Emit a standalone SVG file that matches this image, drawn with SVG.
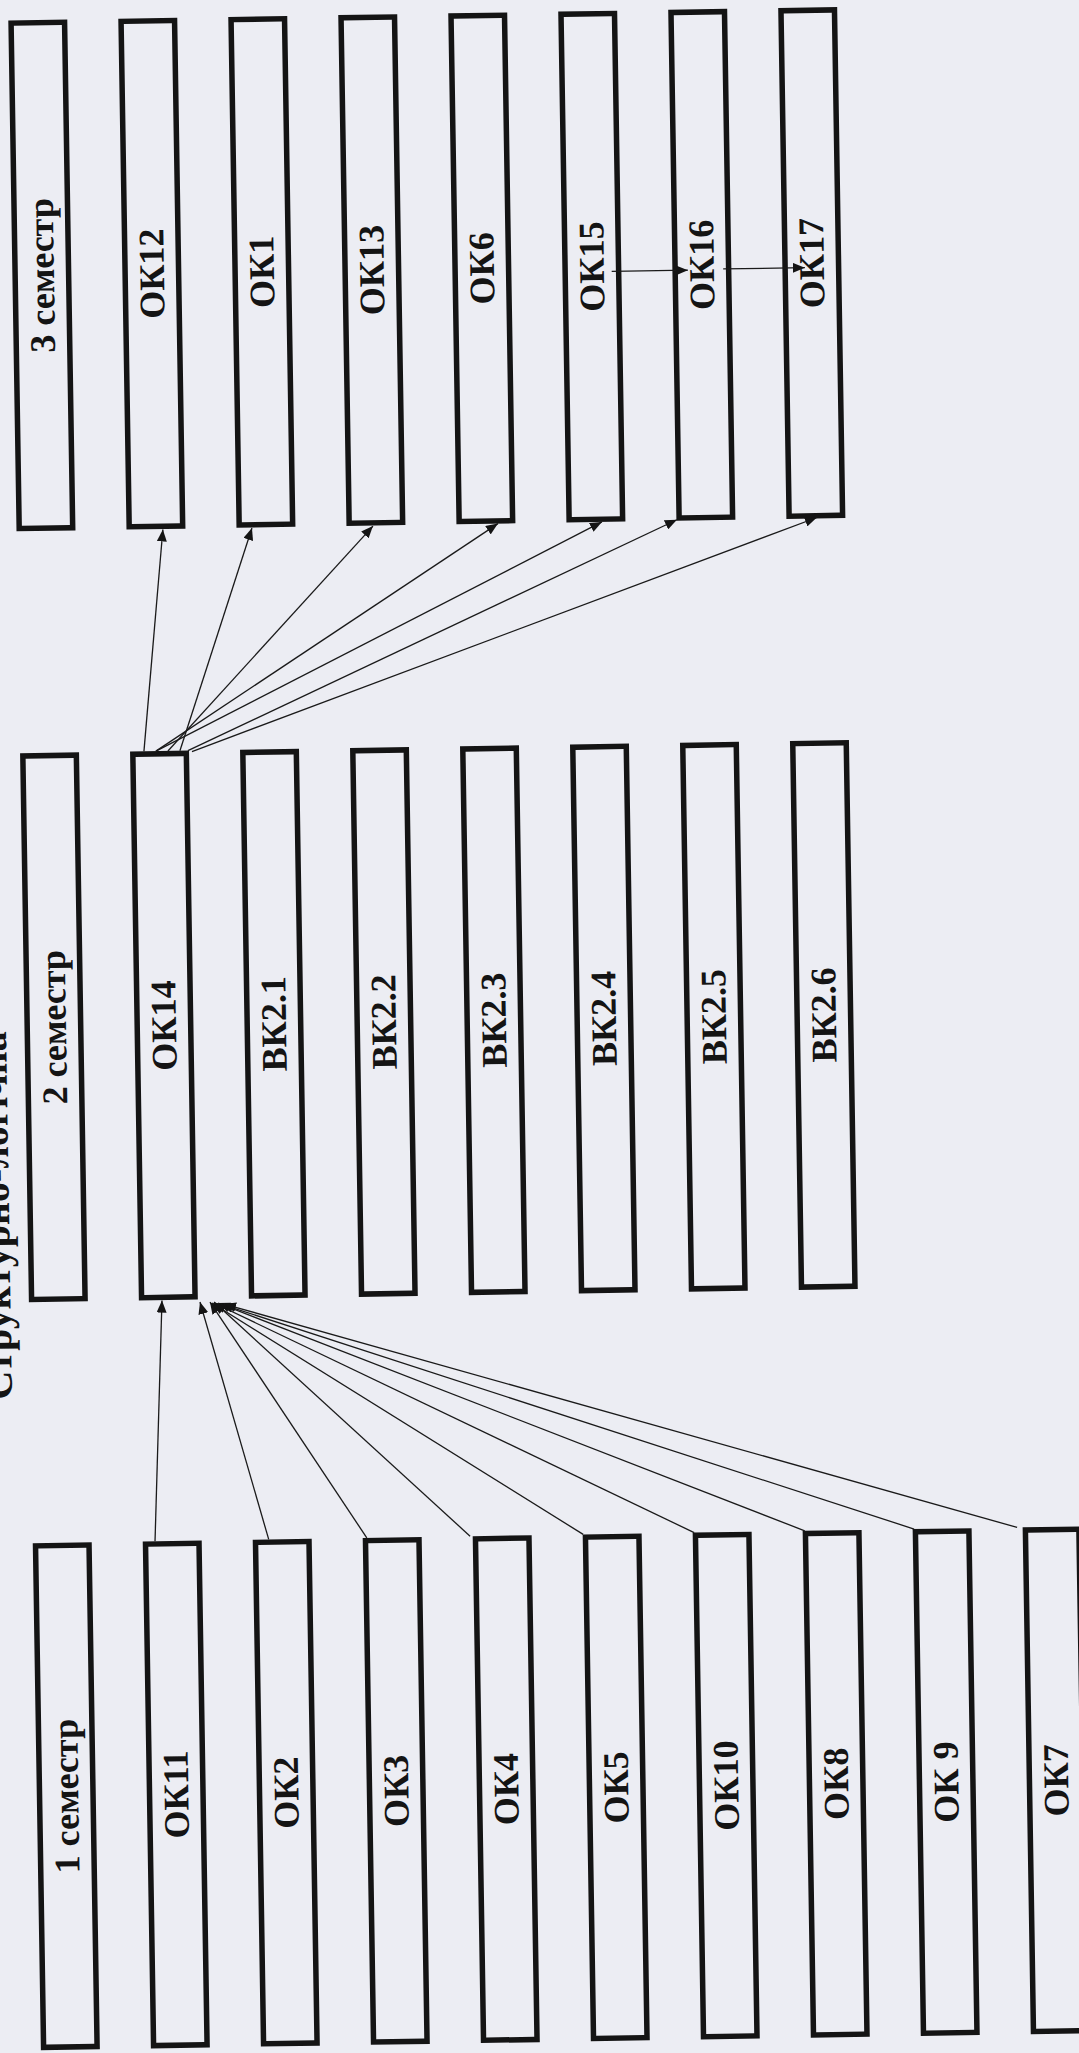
<svg xmlns="http://www.w3.org/2000/svg" width="1079" height="2053" viewBox="0 0 1079 2053">
<style>
.box{fill:none;stroke:#141414;stroke-width:5.5}
.lbl{font-family:"Liberation Serif","Times New Roman",serif;font-weight:bold;font-size:36px;fill:#141414;text-anchor:middle}
.title{font-family:"Liberation Serif","Times New Roman",serif;font-weight:bold;font-size:40px;fill:#141414;text-anchor:start}
.edge{stroke:#1a1a1a;stroke-width:1.3;fill:none;marker-end:url(#ah)}
</style>
<defs>
<marker id="ah" markerUnits="userSpaceOnUse" markerWidth="12" markerHeight="10" refX="12" refY="5" orient="auto"><path d="M0,0 L12,5 L0,10 Z" fill="#141414"/></marker>
</defs>
<rect width="1079" height="2053" fill="#ecedf3"/>
<g transform="rotate(-0.92 540 1026)">
<g id="title"><text class="title" transform="translate(6,1391) rotate(-90)">Структурно-логічна</text></g>
<!-- top row: 3rd semester -->
<g id="sem3"><rect class="box" x="27.25" y="14.75" width="53.5" height="505.5"/><text class="lbl" transform="translate(66,267.5) rotate(-90)">3 семестр</text></g>
<g id="ok12"><rect class="box" x="137.25" y="14.75" width="53.5" height="505.5"/><text class="lbl" transform="translate(176,267.5) rotate(-90)">ОК12</text></g>
<g id="ok1"><rect class="box" x="247.25" y="14.75" width="53.5" height="505.5"/><text class="lbl" transform="translate(286,267.5) rotate(-90)">ОК1</text></g>
<g id="ok13"><rect class="box" x="357.25" y="14.75" width="53.5" height="505.5"/><text class="lbl" transform="translate(396,267.5) rotate(-90)">ОК13</text></g>
<g id="ok6"><rect class="box" x="467.25" y="14.75" width="53.5" height="505.5"/><text class="lbl" transform="translate(506,267.5) rotate(-90)">ОК6</text></g>
<g id="ok15"><rect class="box" x="577.25" y="14.75" width="53.5" height="505.5"/><text class="lbl" transform="translate(616,267.5) rotate(-90)">ОК15</text></g>
<g id="ok16"><rect class="box" x="687.25" y="14.75" width="53.5" height="505.5"/><text class="lbl" transform="translate(726,267.5) rotate(-90)">ОК16</text></g>
<g id="ok17"><rect class="box" x="797.25" y="14.75" width="53.5" height="505.5"/><text class="lbl" transform="translate(836,267.5) rotate(-90)">ОК17</text></g>
<!-- middle row: 2nd semester -->
<g id="sem2"><rect class="box" x="27.25" y="747.75" width="53.5" height="543.5"/><text class="lbl" transform="translate(66,1019.5) rotate(-90)">2 семестр</text></g>
<g id="ok14"><rect class="box" x="137.25" y="747.75" width="53.5" height="543.5"/><text class="lbl" transform="translate(176,1019.5) rotate(-90)">ОК14</text></g>
<g id="vk2_1"><rect class="box" x="247.25" y="747.75" width="53.5" height="543.5"/><text class="lbl" transform="translate(286,1019.5) rotate(-90)">ВК2.1</text></g>
<g id="vk2_2"><rect class="box" x="357.25" y="747.75" width="53.5" height="543.5"/><text class="lbl" transform="translate(396,1019.5) rotate(-90)">ВК2.2</text></g>
<g id="vk2_3"><rect class="box" x="467.25" y="747.75" width="53.5" height="543.5"/><text class="lbl" transform="translate(506,1019.5) rotate(-90)">ВК2.3</text></g>
<g id="vk2_4"><rect class="box" x="577.25" y="747.75" width="53.5" height="543.5"/><text class="lbl" transform="translate(616,1019.5) rotate(-90)">ВК2.4</text></g>
<g id="vk2_5"><rect class="box" x="687.25" y="747.75" width="53.5" height="543.5"/><text class="lbl" transform="translate(726,1019.5) rotate(-90)">ВК2.5</text></g>
<g id="vk2_6"><rect class="box" x="797.25" y="747.75" width="53.5" height="543.5"/><text class="lbl" transform="translate(836,1019.5) rotate(-90)">ВК2.6</text></g>
<!-- bottom row: 1st semester -->
<g id="sem1"><rect class="box" x="27.25" y="1537.75" width="53.5" height="501.5"/><text class="lbl" transform="translate(66,1788.5) rotate(-90)">1 семестр</text></g>
<g id="ok11"><rect class="box" x="137.25" y="1537.75" width="53.5" height="501.5"/><text class="lbl" transform="translate(176,1788.5) rotate(-90)">ОК11</text></g>
<g id="ok2"><rect class="box" x="247.25" y="1537.75" width="53.5" height="501.5"/><text class="lbl" transform="translate(286,1788.5) rotate(-90)">ОК2</text></g>
<g id="ok3"><rect class="box" x="357.25" y="1537.75" width="53.5" height="501.5"/><text class="lbl" transform="translate(396,1788.5) rotate(-90)">ОК3</text></g>
<g id="ok4"><rect class="box" x="467.25" y="1537.75" width="53.5" height="501.5"/><text class="lbl" transform="translate(506,1788.5) rotate(-90)">ОК4</text></g>
<g id="ok5"><rect class="box" x="577.25" y="1537.75" width="53.5" height="501.5"/><text class="lbl" transform="translate(616,1788.5) rotate(-90)">ОК5</text></g>
<g id="ok10"><rect class="box" x="687.25" y="1537.75" width="53.5" height="501.5"/><text class="lbl" transform="translate(726,1788.5) rotate(-90)">ОК10</text></g>
<g id="ok8"><rect class="box" x="797.25" y="1537.75" width="53.5" height="501.5"/><text class="lbl" transform="translate(836,1788.5) rotate(-90)">ОК8</text></g>
<g id="ok9"><rect class="box" x="907.25" y="1537.75" width="53.5" height="501.5"/><text class="lbl" transform="translate(946,1788.5) rotate(-90)">ОК 9</text></g>
<g id="ok7"><rect class="box" x="1017.25" y="1537.75" width="53.5" height="501.5"/><text class="lbl" transform="translate(1056,1788.5) rotate(-90)">ОК7</text></g>
<!-- connectors -->
<g id="connectors">
<path class="edge" d="M148.4,745 L170.9,523.5"/>
<path class="edge" d="M184.4,745 L260,523.5"/>
<path class="edge" d="M172.4,745 L381,523.5"/>
<path class="edge" d="M160.4,745 L506,523"/>
<path class="edge" d="M160.4,745 L610,523"/>
<path class="edge" d="M192.4,745 L685,522"/>
<path class="edge" d="M196.4,746 L825,522"/>
<path class="edge" d="M623.8,272.6 L700,272.6"/>
<path class="edge" d="M735.3,272 L817,272"/>
<path class="edge" d="M146.8,1535 L157.6,1294.5"/>
<path class="edge" d="M260.5,1535 L195.6,1296.5"/>
<path class="edge" d="M358.6,1535 L205.6,1296.7"/>
<path class="edge" d="M461.9,1535 L209.6,1296.8"/>
<path class="edge" d="M575,1535 L207.6,1297.7"/>
<path class="edge" d="M686,1535 L209.6,1297.7"/>
<path class="edge" d="M796.6,1535 L213.6,1297.8"/>
<path class="edge" d="M906,1535 L216.6,1298.9"/>
<path class="edge" d="M1009,1535 L219.6,1298.9"/>
</g>
</g>
</svg>
